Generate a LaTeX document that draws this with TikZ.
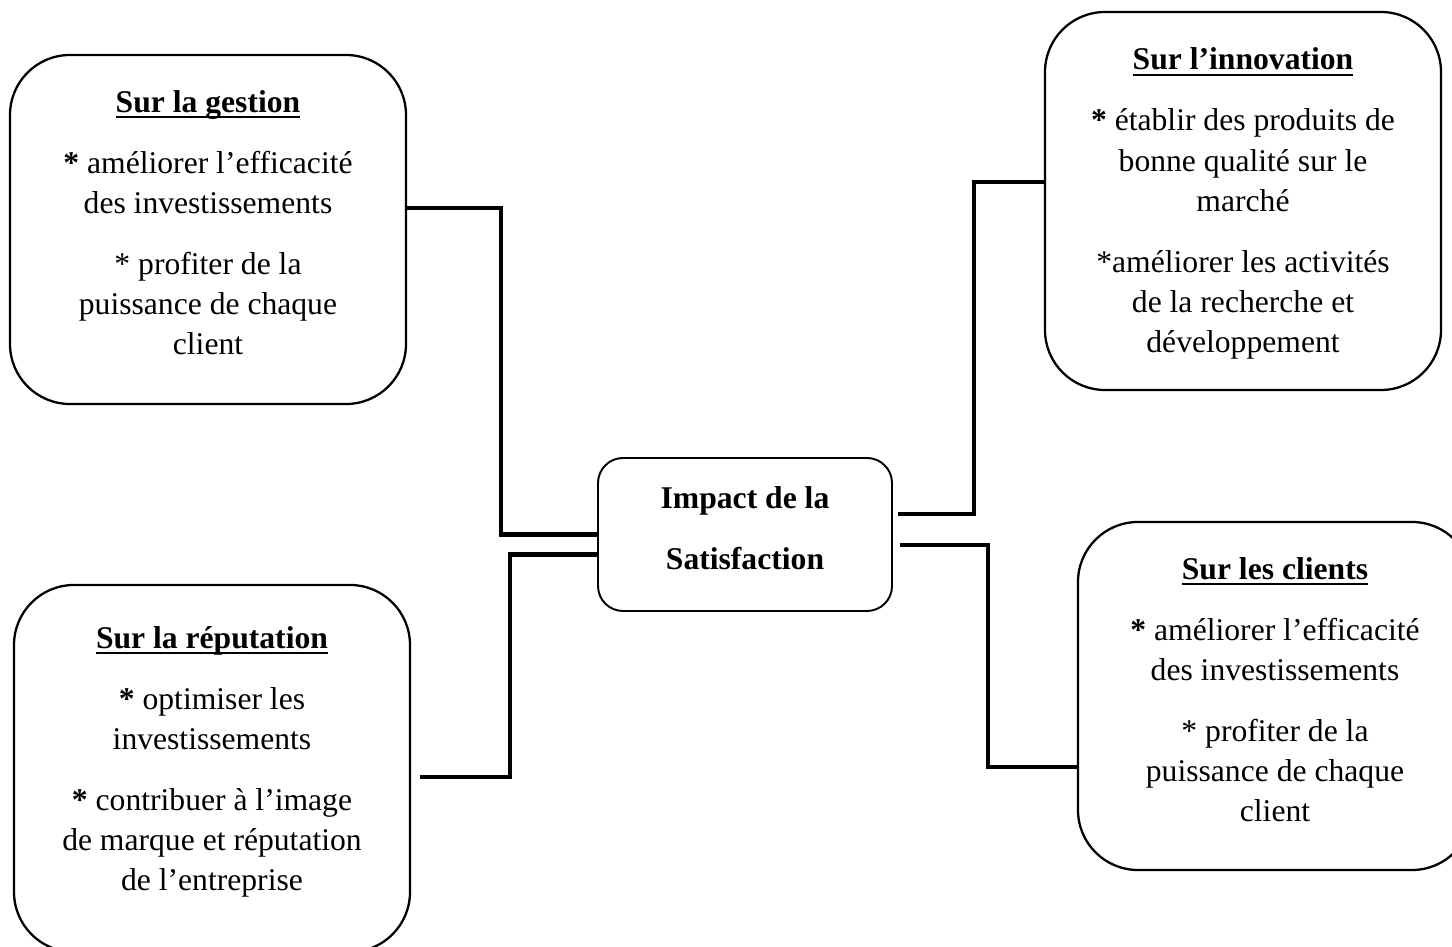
\documentclass[tikz,border=0pt]{standalone}
\usepackage{fontspec}
\setmainfont{Liberation Serif}
\newcommand\souligne[1]{\leavevmode\setbox0\hbox{#1}\rlap{\rule[-3.4pt]{\wd0}{1.1pt}}\box0}
\begin{document}
\begin{tikzpicture}[
    boite/.style={draw, line width=1.3pt, rounded corners=1.2cm, inner sep=0pt},
    texte/.style={align=center, inner sep=0pt, font=\fontsize{18}{22.8}\selectfont},
    lien/.style={line width=2.3pt}
]
        % Page frame
        \clip (0,0) rectangle (29.04,18.94);
        \fill[white] (0,0) rectangle (29.04,18.94);

        % Central box
        \node[boite, rounded corners=0.5cm, line width=1.1pt, minimum width=5.88cm, minimum height=3.06cm]
            (ctr) at (14.9,8.25) {};
        \node[texte] (ctr-t) at ([yshift=1.3mm]ctr.center) {\textbf{Impact de la}\\[11.9pt]\textbf{Satisfaction}};

        % Sur la gestion (top left)
        \node[boite, minimum width=7.92cm, minimum height=6.98cm] (gest) at (4.16,14.35) {};
        \node[texte] (gest-t) at ([yshift=1.4mm]gest.center)
            {\textbf{\souligne{Sur la gestion}}\\[11.9pt]
             \textbf{*} améliorer l’efficacité\\ des investissements\\[11.9pt]
             * profiter de la\\ puissance de chaque\\ client};

        % Sur l'innovation (top right)
        \node[boite, minimum width=7.92cm, minimum height=7.56cm] (innov) at (24.86,14.92) {};
        \node[texte] (innov-t) at ([yshift=-0.5mm]innov.center)
            {\textbf{\souligne{Sur l’innovation}}\\[11.9pt]
             \textbf{*} établir des produits de\\ bonne qualité sur le\\ marché\\[11.9pt]
             *améliorer les activités\\ de la recherche et\\ développement};

        % Sur la reputation (bottom left)
        \node[boite, minimum width=7.92cm, minimum height=7.34cm] (repu) at (4.24,3.57) {};
        \node[texte] (repu-t) at ([yshift=1.4mm]repu.center)
            {\textbf{\souligne{Sur la réputation}}\\[11.9pt]
             \textbf{*} optimiser les\\ investissements\\[11.9pt]
             \textbf{*} contribuer à l’image\\ de marque et réputation\\ de l’entreprise};

        % Sur les clients (bottom right)
        \node[boite, minimum width=7.88cm, minimum height=6.96cm] (clie) at (25.5,5.02) {};
        \node[texte] (clie-t) at ([yshift=1.3mm]clie.center)
            {\textbf{\souligne{Sur les clients}}\\[11.9pt]
             \textbf{*} améliorer l’efficacité\\ des investissements\\[11.9pt]
             * profiter de la\\ puissance de chaque\\ client};

        % Connectors
        \draw[lien] ([yshift=4.3mm]gest.east) -- ++(1.88,0) |- (ctr.west);
        \draw[lien] ([xshift=1.8mm,yshift=-1.7mm]repu.east) -- ++(1.8,0) |- ([yshift=-4mm]ctr.west);
        \draw[lien] ([xshift=1mm,yshift=4.1mm]ctr.east) -- ++(1.52,0) |- ([yshift=3.8mm]innov.west);
        \draw[lien] ([xshift=1.4mm,yshift=-2.1mm]ctr.east) -- ++(1.76,0) |- ([yshift=-14.2mm]clie.west);
\end{tikzpicture}
\end{document}
